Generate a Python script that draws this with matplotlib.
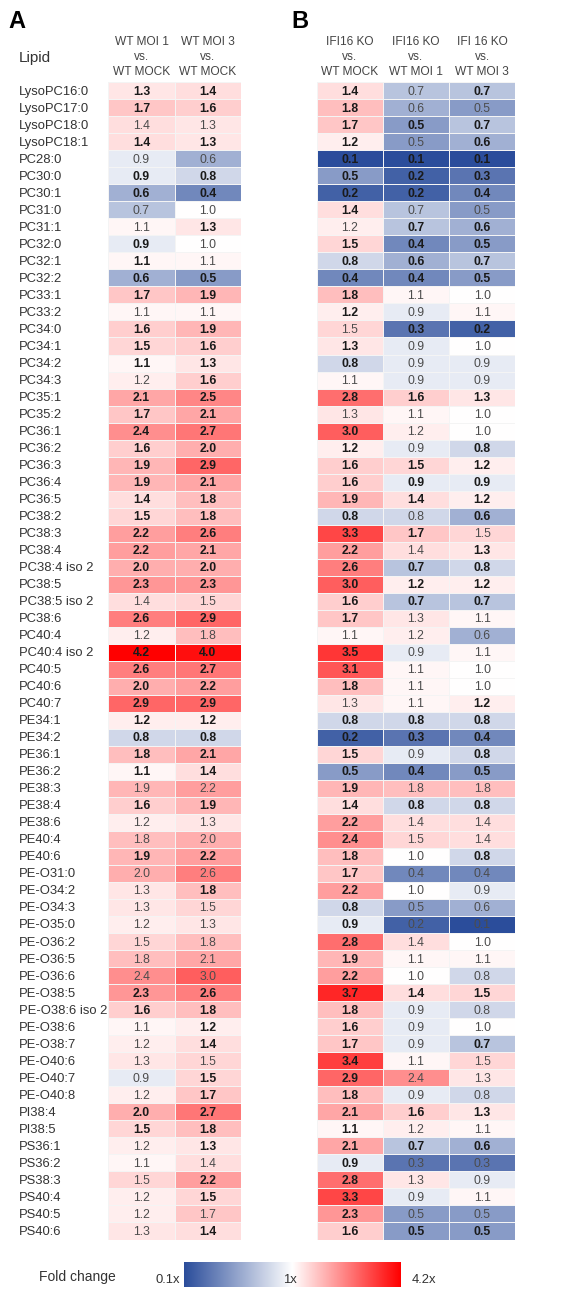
import numpy as np
import matplotlib
matplotlib.use("Agg")
import matplotlib.pyplot as plt
from matplotlib.colors import LinearSegmentedColormap, TwoSlopeNorm
from matplotlib import transforms

plt.rcParams['font.family'] = ['Liberation Sans', 'DejaVu Sans']

lipids = [
    "LysoPC16:0", "LysoPC17:0", "LysoPC18:0", "LysoPC18:1", "PC28:0", "PC30:0",
    "PC30:1", "PC31:0", "PC31:1", "PC32:0", "PC32:1", "PC32:2", "PC33:1", "PC33:2",
    "PC34:0", "PC34:1", "PC34:2", "PC34:3", "PC35:1", "PC35:2", "PC36:1", "PC36:2",
    "PC36:3", "PC36:4", "PC36:5", "PC38:2", "PC38:3", "PC38:4", "PC38:4 iso 2",
    "PC38:5", "PC38:5 iso 2", "PC38:6", "PC40:4", "PC40:4 iso 2", "PC40:5", "PC40:6",
    "PC40:7", "PE34:1", "PE34:2", "PE36:1", "PE36:2", "PE38:3", "PE38:4", "PE38:6",
    "PE40:4", "PE40:6", "PE-O31:0", "PE-O34:2", "PE-O34:3", "PE-O35:0", "PE-O36:2",
    "PE-O36:5", "PE-O36:6", "PE-O38:5", "PE-O38:6 iso 2", "PE-O38:6", "PE-O38:7",
    "PE-O40:6", "PE-O40:7", "PE-O40:8", "PI38:4", "PI38:5", "PS36:1", "PS36:2",
    "PS38:3", "PS40:4", "PS40:5", "PS40:6",
]

# panel A: WT MOI 1 vs WT MOCK, WT MOI 3 vs WT MOCK
# *_sig: 1 = bold (significant), groups of four rows
wt_moi1 = [1.3, 1.7, 1.4, 1.4, 0.9, 0.9, 0.6, 0.7, 1.1, 0.9, 1.1, 0.6, 1.7, 1.1,
           1.6, 1.5, 1.1, 1.2, 2.1, 1.7, 2.4, 1.6, 1.9, 1.9, 1.4, 1.5, 2.2, 2.2,
           2.0, 2.3, 1.4, 2.6, 1.2, 4.2, 2.6, 2.0, 2.9, 1.2, 0.8, 1.8, 1.1, 1.9,
           1.6, 1.2, 1.8, 1.9, 2.0, 1.3, 1.3, 1.2, 1.5, 1.8, 2.4, 2.3, 1.6, 1.1,
           1.2, 1.3, 0.9, 1.2, 2.0, 1.5, 1.2, 1.1, 1.5, 1.2, 1.2, 1.3]
wt_moi1_sig = "1101 0110 0111 1011 1011 1111 1111 1101 0111 1111 1010 0100 0000 0110 0000 1100 0000"
wt_moi3 = [1.4, 1.6, 1.3, 1.3, 0.6, 0.8, 0.4, 1.0, 1.3, 1.0, 1.1, 0.5, 1.9, 1.1,
           1.9, 1.6, 1.3, 1.6, 2.5, 2.1, 2.7, 2.0, 2.9, 2.1, 1.8, 1.8, 2.6, 2.1,
           2.0, 2.3, 1.5, 2.9, 1.8, 4.0, 2.7, 2.2, 2.9, 1.2, 0.8, 2.1, 1.4, 2.2,
           1.9, 1.3, 2.0, 2.2, 2.6, 1.8, 1.5, 1.3, 1.8, 2.1, 3.0, 2.6, 1.8, 1.2,
           1.4, 1.5, 1.5, 1.7, 2.7, 1.8, 1.3, 1.4, 2.2, 1.5, 1.7, 1.4]
wt_moi3_sig = "1101 0110 1001 1011 1111 1111 1111 1101 0111 1111 1010 0101 0000 0111 1011 1110 1101"

# panel B: IFI16 KO vs WT MOCK / WT MOI 1 / WT MOI 3
ko_mock = [1.4, 1.8, 1.7, 1.2, 0.1, 0.5, 0.2, 1.4, 1.2, 1.5, 0.8, 0.4, 1.8, 1.2,
           1.5, 1.3, 0.8, 1.1, 2.8, 1.3, 3.0, 1.2, 1.6, 1.6, 1.9, 0.8, 3.3, 2.2,
           2.6, 3.0, 1.6, 1.7, 1.1, 3.5, 3.1, 1.8, 1.3, 0.8, 0.2, 1.5, 0.5, 1.9,
           1.4, 2.2, 2.4, 1.8, 1.7, 2.2, 0.8, 0.9, 2.8, 1.9, 2.2, 3.7, 1.8, 1.6,
           1.7, 3.4, 2.9, 1.8, 2.1, 1.1, 2.1, 0.9, 2.8, 3.3, 2.3, 1.6]
ko_mock_sig = "1111 1111 0111 1101 1010 1111 1111 1111 0111 0111 1111 1111 1111 1111 1111 1111 1111"
ko_moi1 = [0.7, 0.6, 0.5, 0.5, 0.1, 0.2, 0.2, 0.7, 0.7, 0.4, 0.6, 0.4, 1.1, 0.9,
           0.3, 0.9, 0.9, 0.9, 1.6, 1.1, 1.2, 0.9, 1.5, 0.9, 1.4, 0.8, 1.7, 1.4,
           0.7, 1.2, 0.7, 1.3, 1.2, 0.9, 1.1, 1.1, 1.1, 0.8, 0.3, 0.9, 0.4, 1.8,
           0.8, 1.4, 1.5, 1.0, 0.4, 1.0, 0.5, 0.2, 1.4, 1.1, 1.0, 1.4, 0.9, 0.9,
           0.9, 1.1, 2.4, 0.9, 1.6, 1.2, 0.7, 0.3, 1.3, 0.9, 0.5, 0.5]
ko_moi1_sig = "0010 1110 1111 0010 0010 0011 1010 1110 0000 0110 1010 0000 0000 0100 0000 1010 0001"
ko_moi3 = [0.7, 0.5, 0.7, 0.6, 0.1, 0.3, 0.4, 0.5, 0.6, 0.5, 0.7, 0.5, 1.0, 1.1,
           0.2, 1.0, 0.9, 0.9, 1.3, 1.0, 1.0, 0.8, 1.2, 0.9, 1.2, 0.6, 1.5, 1.3,
           0.8, 1.2, 0.7, 1.1, 0.6, 1.1, 1.0, 1.0, 1.2, 0.8, 0.4, 0.8, 0.5, 1.8,
           0.8, 1.4, 1.4, 0.8, 0.4, 0.9, 0.6, 0.1, 1.0, 1.1, 0.8, 1.5, 0.8, 1.0,
           0.7, 1.5, 1.3, 0.8, 1.3, 1.1, 0.6, 0.3, 0.9, 1.1, 0.5, 0.5]
ko_moi3_sig = "1011 1110 1111 0010 0010 0111 1101 1110 0000 1111 1010 0100 0000 0100 1000 1010 0001"

headers_a = ["WT MOI 1\nvs.\nWT MOCK", "WT MOI 3\nvs.\nWT MOCK"]
headers_b = ["IFI16 KO\nvs.\nWT MOCK", "IFI16 KO\nvs.\nWT MOI 1", "IFI 16 KO\nvs.\nWT MOI 3"]

cmap = LinearSegmentedColormap.from_list("fc", ["#2b4d9b", "#ffffff", "#ff0000"])
norm = TwoSlopeNorm(vmin=0.1, vcenter=1.0, vmax=4.2)

W, H = 582, 1291
fig = plt.figure(figsize=(W / 100, H / 100), dpi=100)
n = len(lipids)
top, bottom = 82.2, 1239.5


def panel(left_px, right_px, cols, sigs, headers):
    ax = fig.add_axes([left_px / W, 1 - bottom / H, (right_px - left_px) / W, (bottom - top) / H])
    data = np.array(cols).T
    ax.pcolormesh(data, cmap=cmap, norm=norm, edgecolors="#f4f4f4", linewidth=0.4)
    ax.set_xlim(0, len(cols))
    ax.set_ylim(n, 0)
    ax.axis("off")
    for j, (vals, sig) in enumerate(zip(cols, sigs)):
        sig = sig.replace(" ", "")
        for i, v in enumerate(vals):
            b = sig[i] == "1"
            ax.text(j + 0.5, i + 0.55, f"{v:.1f}", ha="center", va="center",
                    fontsize=8.8, fontweight="bold" if b else "normal",
                    color="#1a1a1a" if b else "#4c4c4c")
    cw = (right_px - left_px) / len(cols)
    for j, h in enumerate(headers):
        for k, line in enumerate(h.split("\n")):
            fig.text((left_px + cw * (j + 0.5)) / W, 1 - (42 + 15 * k) / H, line,
                     ha="center", va="center", fontsize=8.6, color="#444444")
    return ax


ax_a = panel(108.3, 241, [wt_moi1, wt_moi3], [wt_moi1_sig, wt_moi3_sig], headers_a)
panel(316.7, 515.3, [ko_mock, ko_moi1, ko_moi3], [ko_mock_sig, ko_moi1_sig, ko_moi3_sig], headers_b)

# row labels
tr = transforms.blended_transform_factory(fig.transFigure, ax_a.transData)
for i, name in enumerate(lipids):
    ax_a.text(19 / W, i + 0.55, name, transform=tr, ha="left", va="center",
              fontsize=9.4, color="#333333")

fig.text(19 / W, 1 - 58 / H, "Lipid", ha="left", va="center", fontsize=11, color="#333333")
fig.text(8 / W, 1 - 21 / H, "A", ha="left", va="center", fontsize=17, fontweight="bold")
fig.text(291 / W, 1 - 21 / H, "B", ha="left", va="center", fontsize=17, fontweight="bold")

# colour bar
cax = fig.add_axes([184 / W, 1 - 1287 / H, (401 - 184) / W, 25 / H])
cax.imshow(np.linspace(0, 1, 256)[None, :], aspect="auto", cmap=cmap)
cax.axis("off")
fig.text(39 / W, 1 - 1277 / H, "Fold change", ha="left", va="center", fontsize=10, color="#333333")
fig.text(180 / W, 1 - 1280 / H, "0.1x", ha="right", va="center", fontsize=9.4, color="#333333")
fig.text(290 / W, 1 - 1280 / H, "1x", ha="center", va="center", fontsize=9.4, color="#333333")
fig.text(412 / W, 1 - 1280 / H, "4.2x", ha="left", va="center", fontsize=9.4, color="#333333")

fig.savefig("out.png", dpi=100)
